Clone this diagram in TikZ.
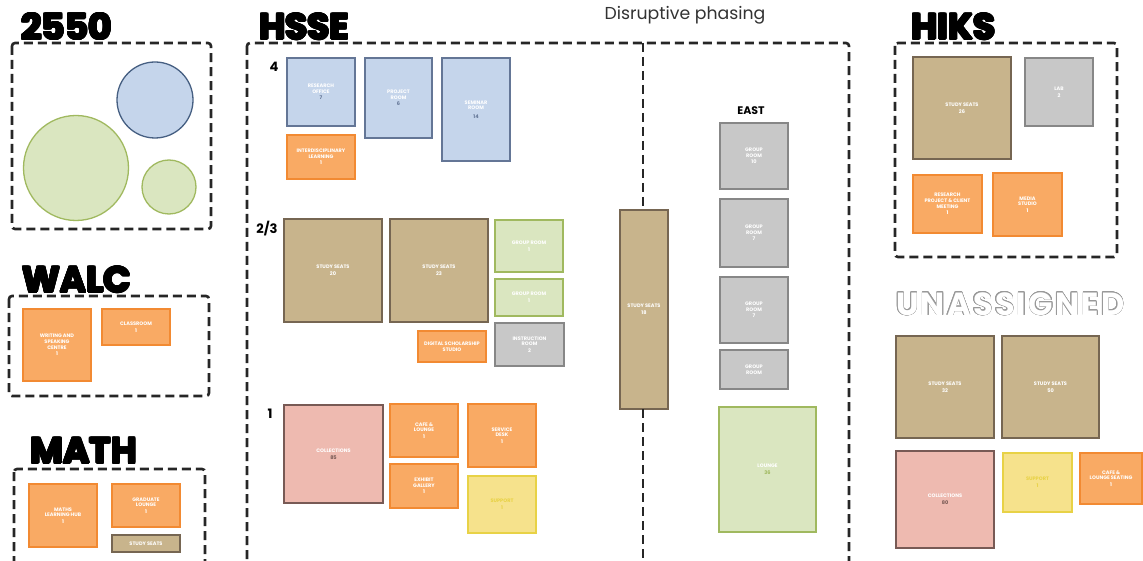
\documentclass[tikz,border=0pt]{standalone}
\usepackage{fontspec}
\setmainfont{Poppins}
\usepackage[copies]{contour}
\contourlength{0.9pt}
\definecolor{bluef}{RGB}{197,213,235}
\definecolor{blued}{RGB}{100,118,150}
\definecolor{greenf}{RGB}{218,230,192}
\definecolor{greend}{RGB}{160,185,95}
\definecolor{orangef}{RGB}{249,170,100}
\definecolor{oranged}{RGB}{242,138,50}
\definecolor{brownf}{RGB}{200,180,140}
\definecolor{brownd}{RGB}{118,102,82}
\definecolor{grayf}{RGB}{200,200,200}
\definecolor{grayd}{RGB}{135,135,135}
\definecolor{pinkf}{RGB}{238,186,176}
\definecolor{pinkd}{RGB}{120,90,85}
\definecolor{yellowf}{RGB}{246,226,140}
\definecolor{yellowd}{RGB}{232,210,70}
\definecolor{circb}{RGB}{70,95,130}
\newcommand\rbox[7]{\node[#1, anchor=north west, minimum width={#5pt-#3pt}, minimum height={#6pt-#4pt}] (#2) at (#3,#4) {#7};}
\tikzset{
  tile/.style={draw, line width=1.6pt, inner sep=0pt, outer sep=0pt, align=center, text=white, font=\fontsize{5}{5.6}\selectfont\bfseries},
  bluebox/.style={tile, fill=bluef, draw=blued},
  greenbox/.style={tile, fill=greenf, draw=greend},
  orangebox/.style={tile, fill=orangef, draw=oranged},
  brownbox/.style={tile, fill=brownf, draw=brownd},
  graybox/.style={tile, fill=grayf, draw=grayd},
  pinkbox/.style={tile, fill=pinkf, draw=pinkd},
  yellowbox/.style={tile, fill=yellowf, draw=yellowd},
  zone/.style={draw=black!85, line width=2.6pt, dash pattern=on 9pt off 5pt, rounded corners=3pt},
  title/.style={font=\fontsize{36}{36}\selectfont\bfseries, text=black, inner sep=0pt},
  level/.style={font=\fontsize{13}{13}\selectfont\bfseries, text=black, inner sep=0pt},
  num/.style={text=brownd}
}
\begin{document}
\begin{tikzpicture}[x=1pt,y=-1pt]
\useasboundingbox (0,0) rectangle (1143,561);
\clip (0,0) rectangle (1143,561);
\fill[white] (0,0) rectangle (1143,561);

% titles
\node[title, anchor=west] (t2550) at (21,27) {\contour{black}{2550}};
\node[title, anchor=west] (twalc) at (22,280) {\contour{black}{WALC}};
\node[title, anchor=west] (tmath) at (30,451) {\contour{black}{MATH}};
\node[title, anchor=west] (thsse) at (259,27) {\contour{black}{HSSE}};
\node[title, anchor=west] (thiks) at (911,27) {\contour{black}{HIKS}};
\node[font=\fontsize{32}{32}\selectfont\bfseries\addfontfeature{LetterSpace=7}, anchor=west, inner sep=0pt, text=white] (tun) at (896,304) {\contourlength{0.5pt}\contour{black!40}{\textcolor{white}{UNASSIGNED}}};
\node[font=\fontsize{17.3}{17.3}\selectfont, text=black!80] (phase) at (685,15) {Disruptive phasing};

% zones
\draw[zone] (12,43) rectangle (211,229);
\draw[zone] (9,296) rectangle (209,396);
\draw[zone] (14,469) rectangle (205,580);
\draw[zone] (247,43) rectangle (849,580);
\draw[zone] (895,43) rectangle (1117,257);

% 2550 circles
\node[circle, draw=circb, line width=1.3pt, fill=bluef, minimum size=76pt, inner sep=0pt] (c1) at (155,100) {};
\node[circle, draw=greend, line width=1.3pt, fill=greenf, minimum size=105pt, inner sep=0pt] (c2) at (76,168) {};
\node[circle, draw=greend, line width=1.3pt, fill=greenf, minimum size=54pt, inner sep=0pt] (c3) at (169,187) {};

% WALC
\rbox{orangebox}{w1}{23}{309}{91}{381}{WRITING AND\\ SPEAKING\\ CENTRE\\[1pt] 1}
\rbox{orangebox}{w2}{102}{309}{170}{345}{CLASSROOM\\[1pt] 1}

% MATH
\rbox{orangebox}{m1}{29}{484}{97}{547}{MATHS\\ LEARNING HUB\\[1pt] 1}
\rbox{orangebox}{m2}{112}{484}{180}{527}{GRADUATE\\ LOUNGE\\[1pt] 1}
\rbox{brownbox}{m3}{112}{535}{180}{552}{STUDY SEATS}

% HSSE level labels
\node[level] (l4) at (274,67) {4};
\node[level] (l23) at (267,229) {2/3};
\node[level] (l1) at (270,414) {1};

% level 4
\rbox{bluebox}{b1}{287}{58}{355}{126}{RESEARCH\\ OFFICE\\[1pt] \textcolor{blued}{7}}
\rbox{bluebox}{b2}{365}{58}{432}{138}{PROJECT\\ ROOM\\[1pt] \textcolor{blued}{6}}
\rbox{bluebox}{b3}{442}{58}{510}{161}{SEMINAR\\ ROOM\\[3pt] \textcolor{blued}{14}}
\rbox{orangebox}{o4}{287}{135}{355}{179}{INTERDISCIPLINARY\\ LEARNING\\[1pt] 1}

% level 2/3
\rbox{brownbox}{s1}{284}{219}{382}{322}{STUDY SEATS\\[1pt] 20}
\rbox{brownbox}{s2}{390}{219}{488}{322}{STUDY SEATS\\[1pt] 23}
\rbox{greenbox}{g1}{495}{220}{563}{272}{GROUP ROOM\\[1pt] 1}
\rbox{greenbox}{g2}{495}{279}{563}{316}{GROUP ROOM\\[1pt] 1}
\rbox{orangebox}{o23}{418}{331}{486}{362}{DIGITAL SCHOLARSHIP\\ STUDIO}
\rbox{graybox}{gr23}{495}{323}{564}{366}{INSTRUCTION\\ ROOM\\[1pt] 2}

% level 1
\rbox{pinkbox}{p1}{284}{405}{383}{503}{COLLECTIONS\\[1pt] \textcolor{pinkd}{85}}
\rbox{orangebox}{o1a}{390}{404}{458}{457}{CAFE \&\\ LOUNGE\\[1pt] 1}
\rbox{orangebox}{o1b}{390}{464}{458}{508}{EXHIBIT\\ GALLERY\\[1pt] 1}
\rbox{orangebox}{o1c}{468}{404}{536}{467}{SERVICE\\ DESK\\[1pt] 1}
\rbox{yellowbox}{y1}{468}{476}{536}{533}{\textcolor{yellowd}{SUPPORT}\\[1pt] \textcolor{yellowd}{1}}

% tall study box and divider
\rbox{brownbox}{tall}{620}{210}{668}{409}{STUDY SEATS\\[1pt] 18}
\coordinate (dtop) at (643,43);
\coordinate (dbot) at (643,580);
\draw[zone] (dtop) -- (tall.north -| dtop);
\draw[zone] (tall.south -| dbot) -- (dbot);

% east
\node[level, font=\fontsize{11}{11}\selectfont\bfseries] (east) at (751,111) {EAST};
\rbox{graybox}{e1}{720}{123}{788}{189}{GROUP\\ ROOM\\[1pt] 10}
\rbox{graybox}{e2}{720}{199}{788}{267}{GROUP\\ ROOM\\[1pt] 7}
\rbox{graybox}{e3}{720}{277}{788}{343}{GROUP\\ ROOM\\[1pt] 7}
\rbox{graybox}{e4}{720}{350}{788}{389}{GROUP\\ ROOM}
\rbox{greenbox}{e5}{719}{407}{816}{532}{LOUNGE\\[1pt] \textcolor{greend}{36}}

% HIKS
\rbox{brownbox}{h1}{913}{57}{1011}{159}{STUDY SEATS\\[1pt] 26}
\rbox{graybox}{h2}{1025}{58}{1093}{126}{LAB\\[1pt] 2}
\rbox{orangebox}{h3}{913}{175}{982}{233}{RESEARCH\\ PROJECT \& CLIENT\\ MEETING\\[1pt] 1}
\rbox{orangebox}{h4}{993}{173}{1062}{236}{MEDIA\\ STUDIO\\[1pt] 1}

% unassigned
\rbox{brownbox}{u1}{896}{336}{994}{438}{STUDY SEATS\\[1pt] 32}
\rbox{brownbox}{u2}{1002}{336}{1099}{438}{STUDY SEATS\\[1pt] 50}
\rbox{pinkbox}{u3}{896}{451}{994}{548}{COLLECTIONS\\[1pt] \textcolor{pinkd}{80}}
\rbox{yellowbox}{u4}{1003}{453}{1072}{512}{\textcolor{yellowd}{SUPPORT}\\[1pt] \textcolor{yellowd}{1}}
\rbox{orangebox}{u5}{1080}{453}{1142}{504}{CAFE \&\\ LOUNGE SEATING\\[1pt] 1}
\end{tikzpicture}
\end{document}
